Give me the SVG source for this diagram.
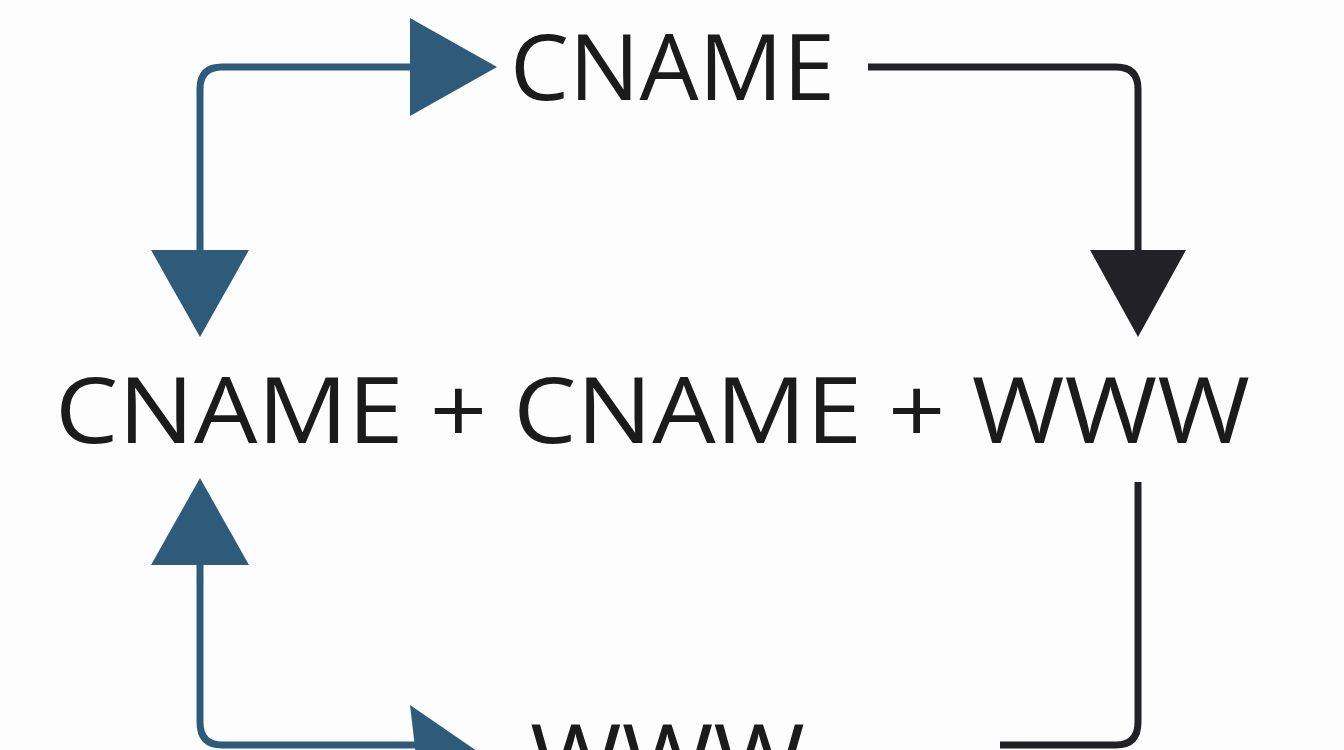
<svg xmlns="http://www.w3.org/2000/svg" width="1344" height="750" viewBox="0 0 1344 750">
<style>
.t{font-family:"Open Sans","Liberation Sans",sans-serif;font-size:92px;fill:#1b1b1b}
.b{fill:none;stroke:#2f5b7a;stroke-width:7}
.k{fill:none;stroke:#222226;stroke-width:7}
</style>
<rect width="1344" height="750" fill="#fdfdfd"/>
<g id="connectors">
<path class="b" d="M420,67 H222 Q200,67 200,89 V260"/>
<polygon fill="#2f5b7a" points="497,67 410,18 410,116"/>
<polygon fill="#2f5b7a" points="200,337 151,250 249,250"/>
<path class="b" d="M200,560 V722 Q200,745 222,745 H420"/>
<polygon fill="#2f5b7a" points="200,478 151,565 249,565"/>
<polygon fill="#2f5b7a" points="410,705 490,760 420,790"/>
<path class="k" d="M868,67 H1116 Q1138,67 1138,89 V260"/>
<polygon fill="#222226" points="1138,337 1090,250 1186,250"/>
<path class="k" d="M1138,482 V722 Q1138,745 1116,745 H1000"/>
</g>
<g id="n1"><text class="t" x="510" y="100" textLength="325" lengthAdjust="spacingAndGlyphs">CNAME</text></g>
<g id="n2"><text class="t" x="55" y="443" font-size="96" textLength="1195" lengthAdjust="spacingAndGlyphs">CNAME + CNAME + WWW</text></g>
<g id="n3"><text class="t" x="530" y="790" textLength="275" lengthAdjust="spacingAndGlyphs">WWW</text></g>
</svg>
